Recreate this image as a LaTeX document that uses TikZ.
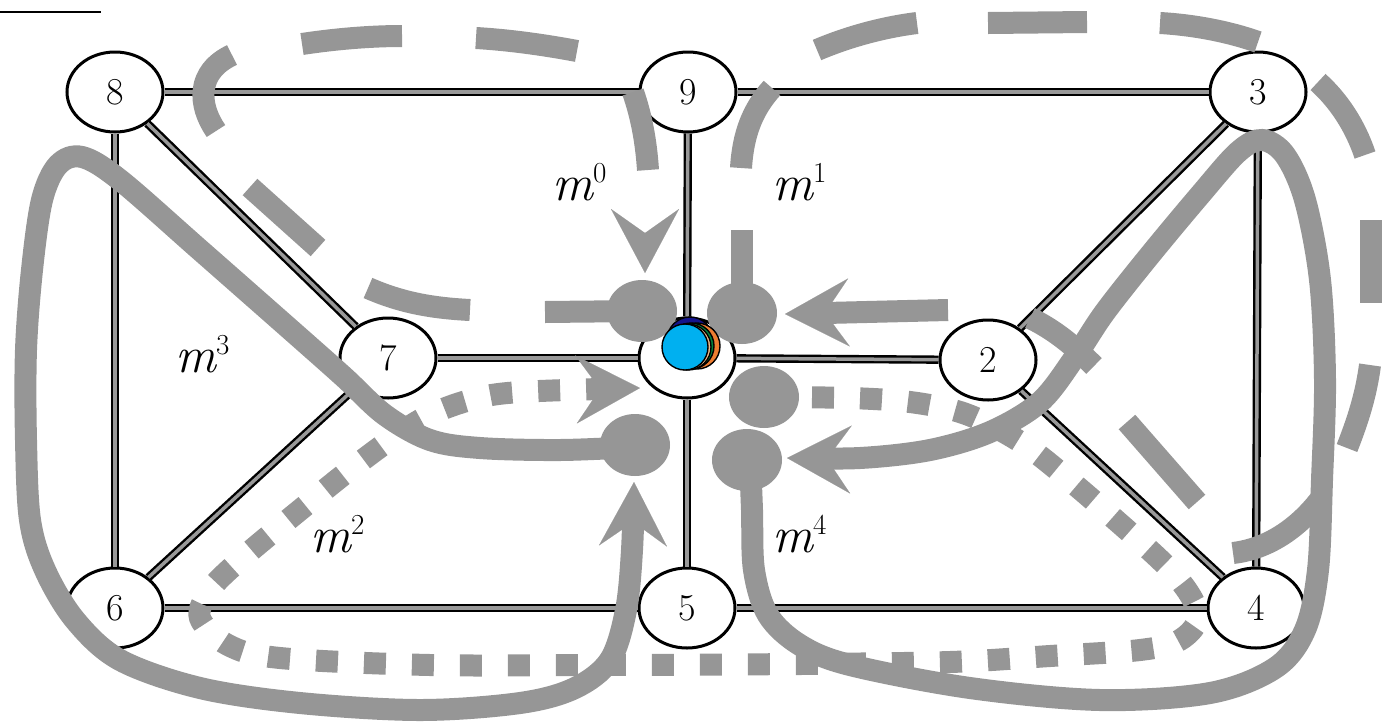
\documentclass[tikz,border=0pt]{standalone}
\usetikzlibrary{arrows.meta,shapes.geometric}
\definecolor{pg}{RGB}{150,150,150}
\definecolor{dotcyan}{RGB}{0,176,240}
\definecolor{dotorange}{RGB}{237,125,49}
\definecolor{dotgreen}{RGB}{0,130,60}
\definecolor{dottan}{RGB}{244,190,140}
\definecolor{dotnavy}{RGB}{20,20,140}
\tikzset{
  vtxnode/.style={ellipse, draw=black, line width=3pt, fill=white, minimum width=96pt, minimum height=80pt, inner sep=0pt, font=\fontsize{38}{42}\selectfont},
  edgeline/.style={draw=black, line width=2.4pt, double=black!40, double distance=3.5pt},
  msgline/.style={draw=pg, line width=22pt},
  msgdot/.style={dash pattern=on 22pt off 26pt},
  msgarrow/.style={-{Stealth[length=64pt,width=68pt,inset=24pt,line width=0.1pt]}},
  msgball/.style={ellipse, fill=pg, minimum width=70pt, minimum height=62pt, inner sep=0pt},
  mlabel/.style={anchor=base west, inner sep=0pt, font=\fontsize{51}{56}\selectfont},
  colordot/.style={circle, draw=black, line width=1.4pt, minimum size=46pt, inner sep=0pt},
}
\newcommand{\suplab}[1]{\raisebox{18pt}{\fontsize{29}{30}\selectfont\upshape #1}}
\begin{document}
\begin{tikzpicture}[x=1pt,y=-1pt]
\useasboundingbox (0,0) rectangle (1384,721);
\coordinate (capL) at (0,12);
\coordinate (capR) at (101,12);
\draw[line width=2.5pt] (capL) -- (capR);

% vertices
\node[vtxnode] (n8) at (115,92) {8};
\node[vtxnode] (n9) at (688,92) {9};
\node[vtxnode] (n3) at (1258,92) {3};
\node[vtxnode] (n7) at (388,358) {7};
\node[vtxnode] (nc) at (687,358) {};
\node[vtxnode] (n2) at (988,360) {2};
\node[vtxnode] (n6) at (115,608) {6};
\node[vtxnode] (n5) at (687,608) {5};
\node[vtxnode] (n4) at (1256,608) {4};

% edges
\draw[edgeline] (n8) -- (n9);
\draw[edgeline] (n9) -- (n3);
\draw[edgeline] (n8) -- (n7);
\draw[edgeline] (n8) -- (n6);
\draw[edgeline] (n9) -- (nc);
\draw[edgeline] (n3) -- (n2);
\draw[edgeline] (n3) -- (n4);
\draw[edgeline] (n7) -- (nc);
\draw[edgeline] (nc) -- (n2);
\draw[edgeline] (n7) -- (n6);
\draw[edgeline] (n2) -- (n4);
\draw[edgeline] (n6) -- (n5);
\draw[edgeline] (n5) -- (n4);
\draw[edgeline] (nc) -- (n5);

% message m0 (dashed), drawn dash by dash
\node[msgball] (b0) at (642,311) {};
\draw[msgline] (642,311) -- (545,312);
\draw[msgline] (470,310) .. controls (430,308) and (400,302) .. (368,288);
\draw[msgline] (318,248) -- (250,187);
\draw[msgline] (216,131) .. controls (198,105) and (196,72) .. (232,55);
\draw[msgline] (302,44) .. controls (335,39) and (370,36) .. (402,36);
\draw[msgline] (476,38) .. controls (510,40) and (545,45) .. (577,51);
\draw[msgline] (633,92) .. controls (641,115) and (646,140) .. (648,170);
\draw[msgline, msgarrow] (645,242) -- (645,273);

% message m1 (dashed), drawn dash by dash
\node[msgball] (b1) at (742,313) {};
\draw[msgline] (742,313) -- (742,230);
\draw[msgline] (741,168) .. controls (743,135) and (752,110) .. (772,88);
\draw[msgline] (817,50) .. controls (850,36) and (885,27) .. (917,23);
\draw[msgline] (988,23) -- (1087,22);
\draw[msgline] (1160,23) .. controls (1195,25) and (1230,32) .. (1258,42);
\draw[msgline] (1318,82) .. controls (1338,100) and (1355,125) .. (1365,155);
\draw[msgline] (1371,220) -- (1371,303);
\draw[msgline] (1370,365) .. controls (1366,395) and (1358,420) .. (1347,448);
\draw[msgline] (1322,497) .. controls (1305,520) and (1275,548) .. (1233,553);
\draw[msgline] (1197,502) -- (1127,422);
\draw[msgline] (1094,366) .. controls (1075,347) and (1055,330) .. (1030,318);
\draw[msgline, msgarrow] (948,310) -- (785,314);

% message m2 (dotted)
\node[msgball] (b2) at (764,397) {};
\draw[msgline, msgdot, msgarrow] plot[smooth, tension=0.55] coordinates {
 (764,397) (850,398) (910,402) (960,412) (1000,430) (1040,456) (1110,515) (1175,575)
 (1198,615) (1180,640) (1140,650) (1050,656) (950,662) (800,664) (600,665) (430,665)
 (280,658) (228,645) (200,618) (210,590) (240,560) (300,510) (360,462) (420,420)
 (470,400) (520,392) (640,388)};

% message m3 (solid)
\node[msgball] (b3) at (635,445) {};
\draw[msgline, msgarrow] plot[smooth, tension=0.55] coordinates {
 (635,447) (560,450) (480,448) (430,440) (385,415) (345,378) (300,338) (200,250)
 (120,180) (82,157) (58,165) (42,200) (32,270) (26,350) (26,440) (30,520) (45,570)
 (75,620) (120,660) (200,688) (300,703) (420,710) (520,703) (575,688) (610,660)
 (626,610) (632,550) (634,482)};

% message m4 (solid)
\node[msgball] (b4) at (747,460) {};
\draw[msgline, msgarrow] plot[smooth, tension=0.55] coordinates {
 (750,460) (752,510) (754,570) (768,615) (800,645) (850,665) (970,688) (1100,700)
 (1210,693) (1275,668) (1305,630) (1318,570) (1322,480) (1325,380) (1320,280)
 (1305,200) (1285,155) (1262,140) (1238,152) (1200,195) (1150,255) (1105,312)
 (1075,357) (1040,402) (990,432) (930,450) (860,458) (787,458)};

% labels
\node[mlabel] (l0) at (552,200) {\itshape m\suplab{0}};
\node[mlabel] (l1) at (772,200) {\itshape m\suplab{1}};
\node[mlabel] (l3) at (175,372) {\itshape m\suplab{3}};
\node[mlabel] (l2) at (310,552) {\itshape m\suplab{2}};
\node[mlabel] (l4) at (772,552) {\itshape m\suplab{4}};

% coloured dots
\node[colordot, fill=dotnavy] (d1) at (690,340) {};
\node[colordot, fill=dotorange] (d2) at (697,346) {};
\node[colordot, fill=dotgreen] (d3) at (691,346) {};
\node[colordot, fill=dottan] (d4) at (688,347) {};
\node[colordot, fill=dotcyan] (d5) at (685,347) {};
\end{tikzpicture}
\end{document}
